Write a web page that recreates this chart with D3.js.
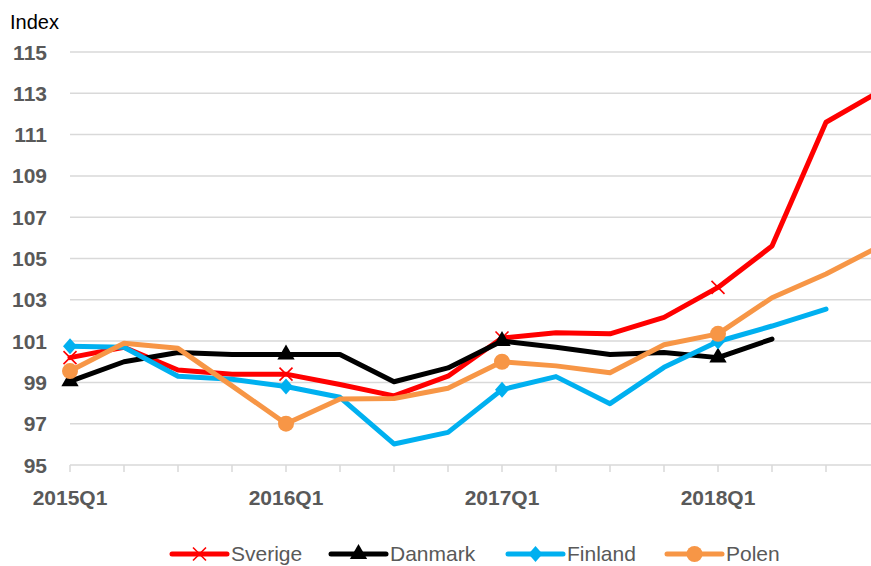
<!DOCTYPE html>
<html>
<head>
<meta charset="utf-8">
<script src="https://cdn.jsdelivr.net/npm/d3@7"></script>
<style>
  body { margin: 0; background: #fff; }
  svg { display: block; font-family: "Liberation Sans", Arial, sans-serif; }
</style>
</head>
<body>
<div id="chart"></div>
<script>
const quarters = ["2015Q1","2015Q2","2015Q3","2015Q4","2016Q1","2016Q2","2016Q3","2016Q4",
                  "2017Q1","2017Q2","2017Q3","2017Q4","2018Q1","2018Q2","2018Q3","2018Q4"];
const sverige = [100.2, 100.7, 99.6, 99.4, 99.4, 98.9, 98.35, 99.3, 101.15, 101.4, 101.35, 102.15, 103.6, 105.6, 111.6, 113.1];
const danmark = [99.05, 100.0, 100.45, 100.35, 100.35, 100.35, 99.03, 99.7, 101.0, 100.7, 100.35, 100.45, 100.2, 101.1];
const finland = [100.75, 100.7, 99.3, 99.15, 98.8, 98.28, 96.02, 96.58, 98.65, 99.28, 97.97, 99.73, 100.98, 101.73, 102.55];
const polen = [99.55, 100.9, 100.65, 98.83, 97.0, 98.2, 98.22, 98.72, 100.0, 99.8, 99.47, 100.82, 101.35, 103.1, 104.25, 105.6];
const yTicks = [95, 97, 99, 101, 103, 105, 107, 109, 111, 113, 115];

const series = [
  { name: "Sverige", values: sverige, color: "#ff0000", marker: "x" },
  { name: "Danmark", values: danmark, color: "#000000", marker: "triangle" },
  { name: "Finland", values: finland, color: "#00b0f0", marker: "diamond" },
  { name: "Polen", values: polen, color: "#f79646", marker: "circle" }
];

const width = 871, height = 566;
const svg = d3.select("#chart").append("svg")
  .attr("width", width).attr("height", height);

const x = d3.scaleLinear().domain([0, quarters.length - 1]).range([70, 880]);
const y = d3.scaleLinear().domain([95, 115]).range([465, 52]);

// gridlines
svg.append("g").selectAll("line")
  .data(yTicks)
  .join("line")
  .attr("x1", 70).attr("x2", width)
  .attr("y1", d => y(d)).attr("y2", d => y(d))
  .attr("stroke", "#d9d9d9").attr("stroke-width", 1.5);

// y labels
svg.append("g").selectAll("text")
  .data(yTicks)
  .join("text")
  .attr("x", 47).attr("y", d => y(d))
  .attr("dy", "0.36em")
  .attr("text-anchor", "end")
  .attr("font-size", 21).attr("font-weight", "bold")
  .attr("fill", "#595959")
  .text(d => d);

svg.append("text")
  .attr("x", 10).attr("y", 29)
  .attr("font-size", 20).attr("fill", "#000")
  .text("Index");

// x ticks
svg.append("g").selectAll("line")
  .data(quarters)
  .join("line")
  .attr("x1", (d, i) => x(i)).attr("x2", (d, i) => x(i))
  .attr("y1", 465).attr("y2", 472)
  .attr("stroke", "#d9d9d9").attr("stroke-width", 1.5);

svg.append("g").selectAll("text")
  .data(quarters.map((q, i) => ({ q, i })).filter(d => d.i % 4 === 0))
  .join("text")
  .attr("x", d => x(d.i)).attr("y", 505)
  .attr("text-anchor", "middle")
  .attr("font-size", 21).attr("font-weight", "bold")
  .attr("fill", "#595959")
  .text(d => d.q);

function drawMarker(g, type, color, cx, cy) {
  if (type === "x") {
    const s = 6.5;
    g.append("path")
      .attr("d", `M${cx - s},${cy - s}L${cx + s},${cy + s}M${cx - s},${cy + s}L${cx + s},${cy - s}`)
      .attr("stroke", color).attr("stroke-width", 1.6).attr("fill", "none");
  } else if (type === "triangle") {
    g.append("path")
      .attr("d", d3.symbol(d3.symbolTriangle, 130)())
      .attr("transform", `translate(${cx},${cy})`)
      .attr("fill", color);
  } else if (type === "diamond") {
    g.append("path")
      .attr("d", `M${cx},${cy - 8}L${cx + 7},${cy}L${cx},${cy + 8}L${cx - 7},${cy}Z`)
      .attr("fill", color);
  } else {
    g.append("circle").attr("cx", cx).attr("cy", cy).attr("r", 8).attr("fill", color);
  }
}

const line = d3.line()
  .x((d, i) => x(i))
  .y(d => y(d));

series.forEach(s => {
  const g = svg.append("g");
  g.append("path")
    .datum(s.values)
    .attr("d", line)
    .attr("fill", "none")
    .attr("stroke", s.color)
    .attr("stroke-width", 5)
    .attr("stroke-linejoin", "round")
    .attr("stroke-linecap", "round");
  s.values.forEach((v, i) => {
    if (i % 4 === 0) drawMarker(g, s.marker, s.color, x(i), y(v));
  });
});

// legend
const legendX = [172, 331, 508, 667];
series.forEach((s, k) => {
  const g = svg.append("g");
  const lx = legendX[k], ly = 554;
  g.append("line")
    .attr("x1", lx).attr("x2", lx + 55)
    .attr("y1", ly).attr("y2", ly)
    .attr("stroke", s.color).attr("stroke-width", 5)
    .attr("stroke-linecap", "round");
  drawMarker(g, s.marker, s.color, lx + 27.5, ly);
  g.append("text")
    .attr("x", lx + 59).attr("y", 561)
    .attr("font-size", 21).attr("fill", "#595959")
    .text(s.name);
});
</script>
</body>
</html>
